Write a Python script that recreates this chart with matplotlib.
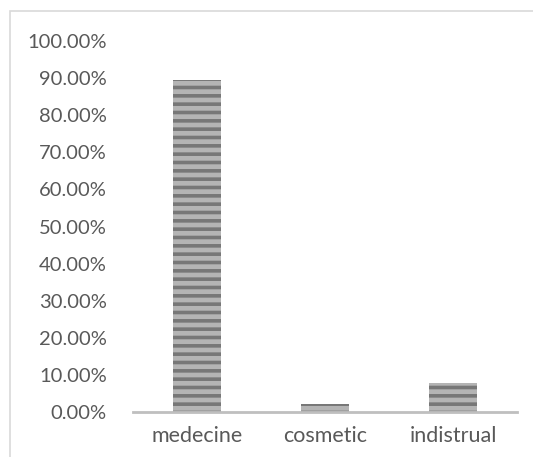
import matplotlib.pyplot as plt
from matplotlib.patches import Rectangle
from matplotlib.ticker import PercentFormatter

categories = ['medecine', 'cosmetic', 'indistrual']
shares = [0.895, 0.021, 0.077]
yticks = [i / 10 for i in range(11)]

plt.rcParams['font.family'] = ['Lato', 'DejaVu Sans']
plt.rcParams['hatch.linewidth'] = 2.6

fig = plt.figure(figsize=(5.33, 4.57), dpi=100)
ax = fig.add_axes([133 / 533, 1 - 412 / 457, 384 / 533, 371 / 457])

bars = ax.bar(categories, shares, width=0.38, color='#b4b4b4',
              edgecolor='#777777', linewidth=0, hatch='--', zorder=2)

ax.set_xlim(-0.5, 2.5)
ax.set_ylim(0, 1.0)
ax.set_yticks(yticks)
ax.yaxis.set_major_formatter(PercentFormatter(1.0, decimals=2))

for side in ['top', 'right', 'left']:
    ax.spines[side].set_visible(False)
ax.spines['bottom'].set_color('#bfbfbf')
ax.spines['bottom'].set_linewidth(2)
ax.spines['bottom'].set_zorder(3)

ax.tick_params(axis='y', length=0, pad=19, labelsize=14.5, labelcolor='#595959')
ax.tick_params(axis='x', length=0, pad=10, labelsize=15.5, labelcolor='#595959')

# light frame around the chart area
fig.patches.append(Rectangle((10 / 533, -0.05), 1.2, 1 - 11 / 457 + 0.05,
                             transform=fig.transFigure, fill=False,
                             edgecolor='#d9d9d9', linewidth=1.2))

fig.savefig('out.png', dpi=100)
